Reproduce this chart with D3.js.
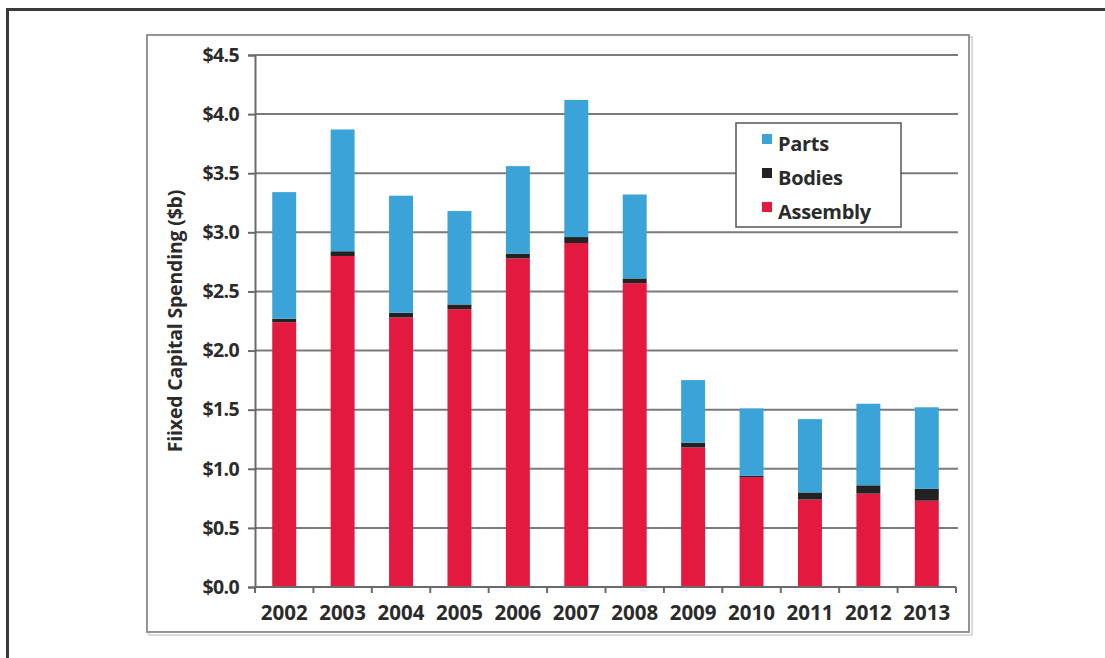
<!DOCTYPE html>
<html>
<head>
<meta charset="utf-8">
<script src="https://cdn.jsdelivr.net/npm/d3@7"></script>
<style>
  html, body { margin: 0; padding: 0; background: #fff; }
  svg { display: block; }
  text { font-family: "Open Sans", "Lato", sans-serif; font-weight: 700; fill: #2b2b2b; }
</style>
</head>
<body>
<svg id="chart" width="1105" height="658"></svg>
<script>
const years = ["2002","2003","2004","2005","2006","2007","2008","2009","2010","2011","2012","2013"];
const assembly = [2.24, 2.80, 2.28, 2.35, 2.78, 2.91, 2.57, 1.18, 0.93, 0.74, 0.79, 0.73];
const bodies   = [0.03, 0.04, 0.04, 0.04, 0.04, 0.05, 0.04, 0.04, 0.01, 0.06, 0.07, 0.10];
const parts    = [1.07, 1.03, 0.99, 0.79, 0.74, 1.16, 0.71, 0.53, 0.57, 0.62, 0.69, 0.69];
const seriesNames = ["Assembly", "Bodies", "Parts"];
const seriesColors = ["#e3193f", "#222222", "#3aa3d8"];
const legendOrder = ["Parts", "Bodies", "Assembly"];
const yTicks = [0, 0.5, 1.0, 1.5, 2.0, 2.5, 3.0, 3.5, 4.0, 4.5];
const yTitle = "Fiixed Capital Spending ($b)";

(function () {
const svg = d3.select("#chart");

// outer frame
svg.append("line").attr("x1", 6).attr("x2", 1105).attr("y1", 9.5).attr("y2", 9.5)
  .attr("stroke", "#3a3a3a").attr("stroke-width", 3);
svg.append("line").attr("x1", 7.5).attr("x2", 7.5).attr("y1", 8).attr("y2", 658)
  .attr("stroke", "#3a3a3a").attr("stroke-width", 3);

// inner chart box with subtle shadow
svg.append("rect").attr("x", 149).attr("y", 37).attr("width", 823).attr("height", 598)
  .attr("fill", "none").attr("stroke", "#dcdcdc").attr("stroke-width", 2);
svg.append("rect").attr("x", 147).attr("y", 35).attr("width", 822).attr("height", 597)
  .attr("fill", "#fff").attr("stroke", "#8a8a8a").attr("stroke-width", 1.8);

const pLeft = 255, pRight = 956, pTop = 55, pBottom = 587;

const x = d3.scaleBand().domain(years).range([pLeft, pRight]).paddingInner(0.59).paddingOuter(0.295);
const xTickScale = d3.scaleBand().domain(years).range([pLeft, pRight]);
const y = d3.scaleLinear().domain([0, 4.5]).range([pBottom, pTop]);

// gridlines
svg.append("g").selectAll("line").data(yTicks.filter(d => d > 0)).join("line")
  .attr("x1", pLeft).attr("x2", pRight + 2)
  .attr("y1", d => y(d)).attr("y2", d => y(d))
  .attr("stroke", "#7a7a7a").attr("stroke-width", 2);

// stacked bars
const rows = years.map((yr, i) => ({ year: yr, Assembly: assembly[i], Bodies: bodies[i], Parts: parts[i] }));
const stack = d3.stack().keys(seriesNames)(rows);
const color = d3.scaleOrdinal().domain(seriesNames).range(seriesColors);

svg.append("g").selectAll("g").data(stack).join("g")
  .attr("fill", d => color(d.key))
  .selectAll("rect").data(d => d).join("rect")
  .attr("x", d => x(d.data.year))
  .attr("width", x.bandwidth())
  .attr("y", d => y(d[1]))
  .attr("height", d => y(d[0]) - y(d[1]));

// y axis
const yAxis = d3.axisLeft(y).tickValues(yTicks).tickSize(7).tickPadding(9)
  .tickFormat(d => "$" + d3.format(".1f")(d));
const gy = svg.append("g").attr("transform", `translate(${pLeft},0)`).call(yAxis);
gy.select(".domain").attr("stroke", "#6a6a6a").attr("stroke-width", 2);
gy.selectAll(".tick line").attr("stroke", "#6a6a6a").attr("stroke-width", 2);
gy.selectAll(".tick text").attr("font-size", 19.5).attr("fill", "#2b2b2b")
  .style("letter-spacing", "-0.6px");

// x axis
const gx = svg.append("g").attr("transform", `translate(0,${pBottom})`);
gx.append("line").attr("x1", pLeft).attr("x2", pRight).attr("y1", 0).attr("y2", 0)
  .attr("stroke", "#6a6a6a").attr("stroke-width", 2);
const boundaries = years.map(yr => xTickScale(yr)).concat([pRight]);
gx.selectAll("line.tk").data(boundaries).join("line").attr("class", "tk")
  .attr("x1", d => d).attr("x2", d => d).attr("y1", 0).attr("y2", 6)
  .attr("stroke", "#6a6a6a").attr("stroke-width", 2);
gx.selectAll("text").data(years).join("text")
  .attr("x", d => xTickScale(d) + xTickScale.bandwidth() / 2)
  .attr("y", 33)
  .attr("text-anchor", "middle")
  .attr("font-size", 20.5)
  .style("letter-spacing", "0px")
  .text(d => d);

// y title
svg.append("text")
  .attr("transform", `translate(182,321) rotate(-90)`)
  .attr("text-anchor", "middle")
  .attr("font-size", 19.5)
  .style("letter-spacing", "-0.2px")
  .text(yTitle);

// legend
const lg = svg.append("g");
lg.append("rect").attr("x", 736).attr("y", 123).attr("width", 165).attr("height", 104)
  .attr("fill", "#fff").attr("stroke", "#555").attr("stroke-width", 1.5);
legendOrder.forEach((name, i) => {
  const cy = 143 + i * 34;
  lg.append("rect").attr("x", 762).attr("y", cy - 9).attr("width", 10).attr("height", 10)
    .attr("fill", color(name));
  lg.append("text").attr("x", 778).attr("y", cy + 8).attr("font-size", 20)
    .style("letter-spacing", "-0.3px").text(name);
});
})();
</script>
</body>
</html>
